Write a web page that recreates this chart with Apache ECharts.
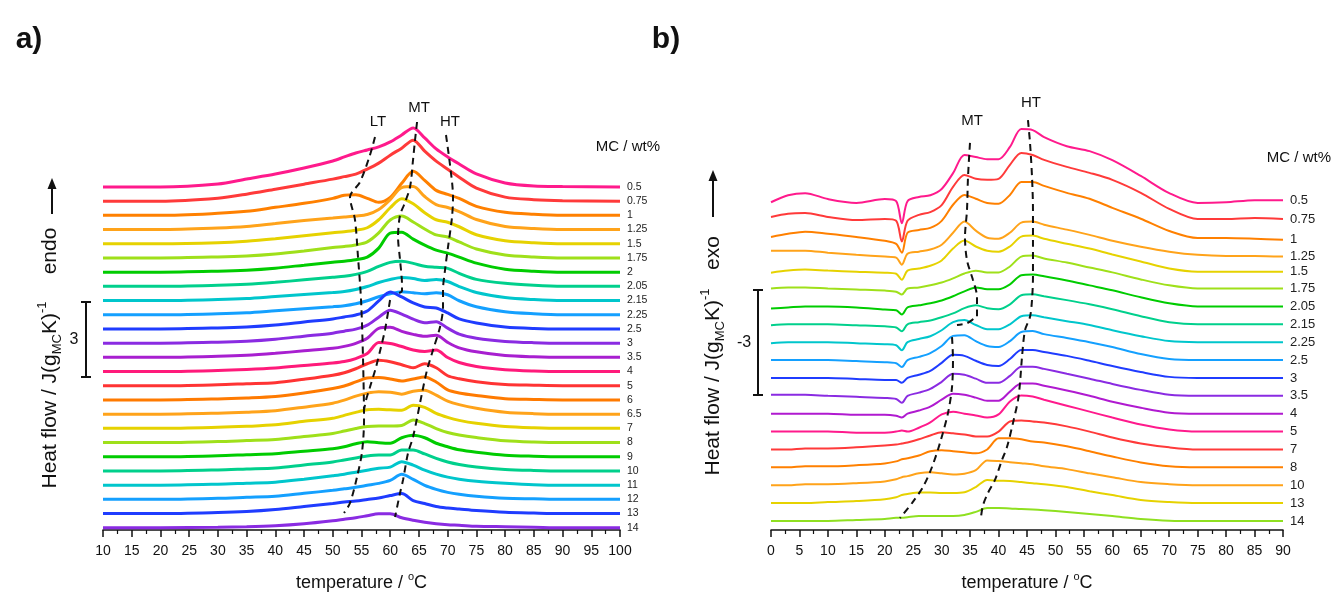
<!DOCTYPE html>
<html><head><meta charset="utf-8">
<script src="https://cdn.jsdelivr.net/npm/echarts@6/dist/echarts.min.js"></script>
<style>html,body{margin:0;padding:0;background:#fff}#c{width:1331px;height:595px}</style>
</head><body><div id="c"></div>
<script>
// ---------- Panel a: heating (endo up), heat flow above each curve's baseline, J/(g K) ----------
const TEMP_A = [10,20,30,35,40,45,50,52,54,56,58,60,62,64,66,68,70,72,75,80,85,90,100];
const MC_A = ['0.5','0.75','1','1.25','1.5','1.75','2','2.05','2.15','2.25','2.5','3','3.5','4','5','6','6.5','7','8','9','10','11','12','13','14'];
const A_0_5  = [0,0,0.12,0.32,0.52,0.76,1.04,1.2,1.36,1.48,1.6,1.8,2.08,2.36,1.96,1.52,1.2,0.92,0.52,0.16,0.04,0.02,0];
const A_0_75 = [0,0,0.12,0.28,0.48,0.68,0.88,0.98,1.08,1.28,1.52,1.84,2.12,2.44,2.0,1.6,1.28,0.96,0.52,0.16,0.06,0.02,0];
const A_1    = [0,0,0.08,0.16,0.32,0.48,0.68,0.8,0.82,0.68,0.52,0.72,1.28,1.76,1.4,1.0,0.84,0.68,0.36,0.12,0.04,0,0];
const A_1_25 = [0,0,0.06,0.12,0.24,0.36,0.46,0.5,0.54,0.6,0.8,1.2,1.68,1.72,1.32,1.0,0.88,0.72,0.4,0.12,0.04,0,0];
const A_1_5  = [0,0,0.04,0.1,0.2,0.32,0.44,0.48,0.54,0.64,0.96,1.44,1.8,1.6,1.24,0.96,0.86,0.68,0.36,0.12,0.04,0,0];
const A_1_75 = [0,0,0.04,0.08,0.16,0.28,0.42,0.46,0.52,0.64,1.0,1.52,1.68,1.44,1.16,0.92,0.84,0.64,0.36,0.12,0.04,0,0];
const A_2    = [0,0,0.04,0.08,0.16,0.28,0.4,0.44,0.5,0.6,0.96,1.56,1.6,1.32,1.08,0.88,0.76,0.6,0.36,0.12,0.04,0,0];
const A_2_05 = [0,0,0.04,0.08,0.16,0.26,0.36,0.4,0.48,0.6,0.8,0.96,1.0,0.92,0.8,0.76,0.72,0.52,0.28,0.12,0.04,0,0];
const A_2_15 = [0,0,0.04,0.08,0.16,0.24,0.32,0.36,0.44,0.56,0.72,0.84,0.92,0.88,0.8,0.84,0.76,0.56,0.32,0.12,0.04,0,0];
const A_2_25 = [0,0,0.04,0.08,0.16,0.24,0.32,0.36,0.44,0.56,0.72,0.84,0.92,0.88,0.84,0.88,0.8,0.56,0.32,0.12,0.04,0,0];
const A_2_5  = [0,0,0.04,0.08,0.16,0.28,0.4,0.48,0.56,0.72,1.12,1.48,1.28,1.04,0.88,0.84,0.64,0.4,0.24,0.08,0.02,0,0];
const A_3    = [0,0,0.04,0.08,0.16,0.28,0.4,0.48,0.56,0.72,1.04,1.32,1.16,0.96,0.82,0.86,0.6,0.36,0.2,0.07,0.02,0,0];
const A_3_5  = [0,0,0.04,0.08,0.16,0.26,0.36,0.44,0.56,0.76,1.16,1.2,1.04,0.92,0.84,0.88,0.6,0.38,0.22,0.07,0.02,0,0];
const A_4    = [0,0,0.04,0.08,0.14,0.24,0.34,0.4,0.52,0.72,1.16,1.12,1.0,0.86,0.8,0.86,0.56,0.36,0.2,0.07,0.02,0,0];
const A_5    = [0,0,0.04,0.08,0.12,0.26,0.42,0.52,0.68,0.88,1.02,0.96,0.84,0.72,0.88,0.72,0.4,0.28,0.16,0.05,0.02,0,0];
const A_6    = [0,0,0.04,0.08,0.14,0.28,0.46,0.56,0.72,0.88,0.9,0.84,0.76,0.84,0.92,0.72,0.4,0.28,0.18,0.05,0.02,0,0];
const A_6_5  = [0,0,0.04,0.08,0.14,0.28,0.44,0.56,0.72,0.84,0.9,0.88,0.8,0.92,0.96,0.76,0.52,0.38,0.24,0.08,0.02,0,0];
const A_7    = [0,0,0.04,0.08,0.14,0.28,0.4,0.52,0.64,0.74,0.76,0.74,0.72,0.92,0.84,0.6,0.44,0.32,0.2,0.07,0.02,0,0];
const A_8    = [0,0,0.04,0.08,0.12,0.24,0.36,0.46,0.56,0.64,0.66,0.66,0.68,0.9,0.76,0.56,0.4,0.3,0.2,0.07,0.02,0,0];
const A_9    = [0,0,0.04,0.08,0.12,0.22,0.32,0.4,0.52,0.6,0.56,0.54,0.76,0.86,0.76,0.54,0.4,0.28,0.18,0.06,0.02,0,0];
const A_10   = [0,0,0.04,0.08,0.12,0.24,0.36,0.44,0.52,0.6,0.64,0.64,0.84,0.84,0.68,0.5,0.36,0.26,0.16,0.06,0.02,0,0];
const A_11   = [0,0,0.04,0.08,0.12,0.24,0.38,0.44,0.52,0.6,0.68,0.72,0.94,0.8,0.6,0.44,0.32,0.24,0.16,0.08,0.02,0,0];
const A_12   = [0,0,0.04,0.08,0.12,0.24,0.36,0.42,0.48,0.56,0.64,0.76,1.0,0.8,0.56,0.4,0.28,0.2,0.12,0.04,0.02,0,0];
const A_13   = [0,0,0.04,0.08,0.16,0.28,0.4,0.46,0.5,0.56,0.62,0.72,0.8,0.52,0.4,0.28,0.22,0.18,0.12,0.05,0.02,0,0];
const A_14   = [0,0,0.02,0.04,0.08,0.16,0.28,0.34,0.4,0.48,0.56,0.56,0.4,0.3,0.22,0.16,0.12,0.1,0.06,0.04,0.02,0,0];
const CURVES_A = [A_0_5,A_0_75,A_1,A_1_25,A_1_5,A_1_75,A_2,A_2_05,A_2_15,A_2_25,A_2_5,A_3,A_3_5,A_4,A_5,A_6,A_6_5,A_7,A_8,A_9,A_10,A_11,A_12,A_13,A_14];
// peak-position guide lines [T, stacked value]
const LT_A = [[57.35,15.72],[56.48,15.0],[54.74,13.92],[53.0,13.32],[53.87,12.4],[54.39,10.92],[54.92,9.2],[55.27,6.8],[55.44,4.4],[55.09,3.12],[54.22,2.12],[53.0,1.08],[51.96,0.68]];
const MT_A1 = [[64.67,16.32],[64.32,15.6],[63.97,14.8],[63.45,13.72],[62.4,13.0],[61.71,12.6],[61.36,11.72],[61.71,10.8],[62.05,9.8],[62.05,9.56],[61.01,9.44]];
const MT_A2 = [[59.97,9.2],[59.09,8.0],[58.4,7.32],[57.53,6.52],[56.48,5.72],[55.79,5.2],[55.44,4.8]];
const HT_A = [[69.71,15.8],[70.41,14.6],[70.93,13.32],[70.76,12.52],[70.06,11.32],[69.54,10.4],[69.19,9.6],[69.19,8.92],[68.67,8.12],[67.45,7.2],[66.41,6.4],[65.54,5.48],[63.97,3.72],[63.1,3.08],[62.23,2.0],[61.71,1.48],[60.84,0.52]];

// ---------- Panel b: cooling (exo up) ----------
const TEMP_B = [0,3,6,10,15,20,22,23,24,26,28,30,32,34,36,38,40,42,44,46,48,52,56,60,65,70,75,80,85,90];
const MC_B = ['0.5','0.75','1','1.25','1.5','1.75','2.05','2.15','2.25','2.5','3','3.5','4','5','7','8','10','13','14'];
const B_0_5  = [-0.09,0.11,0.17,0,-0.11,0,-0.06,-0.69,-0.06,0.06,0.11,0.29,0.74,1.26,1.2,1.14,1.14,1.49,2.0,1.97,1.77,1.51,1.37,1.11,0.66,0.17,-0.11,-0.09,-0.03,-0.03];
const B_0_75 = [0,0.09,0.11,0,-0.09,-0.06,-0.11,-0.7,-0.11,0.06,0.14,0.34,0.86,1.2,1.09,1.06,1.09,1.49,1.83,1.77,1.63,1.43,1.26,1.06,0.69,0.23,-0.06,-0.06,-0.03,-0.06];
const B_1    = [-0.06,0.03,0.09,0.03,-0.06,-0.17,-0.26,-0.51,0.06,0.14,0.2,0.4,0.86,1.14,1.03,0.91,0.89,1.14,1.51,1.51,1.4,1.2,1.03,0.77,0.46,0.11,-0.09,-0.09,-0.11,-0.14];
const B_1_25 = [0.06,0.06,0.06,0,-0.06,-0.11,-0.14,-0.34,-0.03,0.03,0.09,0.23,0.57,0.89,0.63,0.43,0.4,0.57,0.86,0.89,0.8,0.66,0.51,0.34,0.17,0.03,-0.06,-0.09,-0.09,-0.11];
const B_1_5  = [-0.06,0,0.03,0,-0.03,-0.06,-0.09,-0.26,0,0.06,0.14,0.29,0.63,0.86,0.69,0.57,0.54,0.69,0.97,1.0,0.91,0.77,0.63,0.46,0.26,0.06,-0.03,-0.03,-0.03,-0.03];
const B_1_75 = [0,0.03,0.03,0,-0.03,-0.06,-0.09,-0.17,0,0.03,0.09,0.17,0.29,0.43,0.51,0.46,0.46,0.63,0.91,0.94,0.86,0.74,0.6,0.46,0.26,0.09,0,0,0,0];
const B_2_05 = [-0.06,-0.03,0,0,-0.03,-0.09,-0.11,-0.23,-0.03,0.03,0.09,0.17,0.29,0.43,0.54,0.49,0.49,0.63,0.89,0.91,0.86,0.74,0.6,0.46,0.26,0.09,0,0,0,0];
const B_2_15 = [-0.03,0,0,0,-0.03,-0.06,-0.09,-0.2,0,0.06,0.11,0.2,0.31,0.46,0.54,0.46,0.43,0.57,0.83,0.86,0.8,0.69,0.57,0.43,0.23,0.06,0,0,0,0];
const B_2_25 = [-0.03,0,0,0,-0.03,-0.06,-0.09,-0.23,0,0.09,0.17,0.34,0.57,0.63,0.49,0.37,0.37,0.51,0.74,0.77,0.71,0.6,0.49,0.34,0.17,0.03,0,0,0,0];
const B_2_5  = [0,0,0,0,-0.03,-0.06,-0.09,-0.2,0,0.09,0.2,0.4,0.69,0.71,0.54,0.4,0.37,0.54,0.8,0.83,0.74,0.63,0.51,0.37,0.17,0.03,0,0,0,0];
const B_3    = [0,0,0,0,-0.03,-0.06,-0.06,-0.14,0,0.09,0.2,0.43,0.66,0.63,0.49,0.37,0.34,0.54,0.8,0.8,0.74,0.63,0.49,0.34,0.17,0.03,0,0,0,0];
const B_3_5  = [0.03,0.03,0.03,0,-0.03,-0.06,-0.09,-0.2,0,0.09,0.2,0.4,0.63,0.6,0.49,0.37,0.37,0.57,0.83,0.83,0.77,0.63,0.49,0.34,0.17,0.03,0,0,0,0];
const B_4    = [0,0,0,0,-0.03,-0.03,-0.06,-0.11,0,0.09,0.2,0.4,0.57,0.54,0.46,0.37,0.37,0.63,0.86,0.86,0.8,0.66,0.51,0.34,0.17,0.03,0,0,0,0];
const B_5    = [0,0,0,0,-0.03,-0.03,0,0.03,0,0.11,0.26,0.49,0.57,0.51,0.46,0.4,0.49,0.86,1.03,1.0,0.91,0.74,0.57,0.4,0.2,0.06,0,0,0,0];
const B_7    = [0,0,0.03,0.03,0.06,0.11,0.14,0.17,0.2,0.29,0.4,0.49,0.46,0.43,0.37,0.37,0.51,0.8,0.83,0.8,0.77,0.66,0.51,0.34,0.17,0.06,0,0,0,0];
const B_8    = [0,0,0.03,0.03,0.06,0.11,0.17,0.23,0.26,0.34,0.46,0.49,0.46,0.43,0.4,0.51,0.83,0.83,0.8,0.74,0.71,0.6,0.46,0.31,0.14,0.03,0,0,0,0];
const B_10   = [0,0,0.03,0.03,0.06,0.11,0.17,0.23,0.26,0.34,0.37,0.34,0.31,0.33,0.43,0.71,0.69,0.66,0.63,0.6,0.54,0.46,0.34,0.23,0.09,0.03,0,0,0,0];
const B_13   = [0,0,0,0.03,0.06,0.11,0.17,0.23,0.26,0.3,0.3,0.29,0.29,0.31,0.46,0.66,0.64,0.63,0.6,0.57,0.54,0.46,0.34,0.23,0.09,0.03,0,0,0,0];
const B_14   = [0,0,0,0,0.03,0.06,0.09,0.09,0.11,0.14,0.14,0.14,0.14,0.17,0.26,0.37,0.37,0.36,0.34,0.33,0.31,0.26,0.2,0.14,0.06,0.01,0,0,0,0];
const CURVES_B = [B_0_5,B_0_75,B_1,B_1_25,B_1_5,B_1_75,B_2_05,B_2_15,B_2_25,B_2_5,B_3,B_3_5,B_4,B_5,B_7,B_8,B_10,B_13,B_14];
const MT_B1 = [[34.98,11.06],[34.63,10.09],[34.45,9.14],[34.1,8.37],[34.45,7.71],[35.51,7.14],[36.21,6.66],[36.21,6.09],[35.86,6.06],[34.45,5.91],[32.69,5.86]];
const MT_B2 = [[31.82,5.51],[31.99,4.86],[31.82,4.09],[31.11,3.34],[29.71,2.49],[28.3,1.8],[26.72,1.23],[24.78,0.77],[22.68,0.34]];
const HT_B = [[45.17,11.71],[45.53,11.06],[45.88,10.09],[46.05,9.14],[46.05,8.2],[46.05,7.23],[45.88,6.57],[45.53,6.09],[44.65,5.71],[44.12,4.94],[43.77,4.2],[43.42,3.71],[42.54,3.06],[41.48,2.37],[40.6,2.0],[39.37,1.43],[38.14,1.06],[37.27,0.71],[36.91,0.37]];

// stacking offsets of the curves (J/(g K))
const BASE_A = 0.09, STEP_A = 0.568;
const BASE_B = 0.257, STEP_B = 0.511;
const SCALE_A = 3, SCALE_B = 3;

const COLORS_A = ['#ff1a8c','#ff3a3a','#ff8000','#ffa31a','#e6d200','#9fe01a','#00cc00','#00d08c','#00c6cc','#14a0ff','#1f3cff','#8a2be2','#a81fd0','#ff1a7a','#ff3333','#ff7a00','#ffa31a','#e6d200','#9fe01a','#00cc00','#00d08c','#00c6cc','#14a0ff','#1f3cff','#8a2be2'];
const COLORS_B = ['#ff1a8c','#ff3a3a','#ff8000','#ffa31a','#e6d200','#9fe01a','#00cc00','#00d08c','#00c6cc','#14a0ff','#1f3cff','#8a2be2','#b01ad0','#ff1a8c','#ff3a3a','#ff8000','#ffa31a','#e6d200','#8fe020'];

const FONT = '"Liberation Sans", Arial, sans-serif';

function curveSeries(temps, curves, labels, colors, base, step, idx, width, fs) {
  const n = curves.length;
  return curves.map((vals, i) => ({
    type: 'line', name: labels[i], xAxisIndex: idx, yAxisIndex: idx,
    data: temps.map((t, j) => [t, base + step * (n - 1 - i) + vals[j]]),
    symbol: 'none', smooth: 0.3, silent: true, z: 2,
    lineStyle: { color: colors[i], width: width },
    itemStyle: { color: colors[i] },
    endLabel: { show: true, formatter: () => labels[i], fontSize: fs, color: '#222', distance: 7, fontFamily: FONT }
  }));
}
function guide(pts, idx) {
  return { type: 'line', xAxisIndex: idx, yAxisIndex: idx, data: pts, symbol: 'none', smooth: 0.3, silent: true, z: 20,
    lineStyle: { color: '#111', width: 2, type: [7, 5] } };
}
function xAxis(idx, min, max) {
  return { type: 'value', gridIndex: idx, min: min, max: max, interval: 5,
    name: '{m|temperature / }{s|o}{m|C}', nameLocation: 'middle', nameGap: 41,
    nameTextStyle: { rich: { m: { fontSize: 18, lineHeight: 24, color: '#111', fontFamily: FONT }, s: { fontSize: 11, lineHeight: 12, verticalAlign: 'top', color: '#111', fontFamily: FONT } } },
    axisLine: { onZero: false, lineStyle: { color: '#111', width: 1.5 } },
    axisTick: { inside: false, length: 7, lineStyle: { color: '#111', width: 1.5 } },
    minorTick: { show: true, splitNumber: 2, length: 4, lineStyle: { color: '#111', width: 1.2 } },
    axisLabel: { fontSize: 14, color: '#111', margin: 14, fontFamily: FONT },
    splitLine: { show: false } };
}

const chart = echarts.init(document.getElementById('c'));
const series = []
  .concat(curveSeries(TEMP_A, CURVES_A, MC_A, COLORS_A, BASE_A, STEP_A, 0, 3, 10.5))
  .concat(curveSeries(TEMP_B, CURVES_B, MC_B, COLORS_B, BASE_B, STEP_B, 1, 2, 13))
  .concat([guide(LT_A, 0), guide(MT_A1, 0), guide(MT_A2, 0), guide(HT_A, 0), guide(MT_B1, 1), guide(MT_B2, 1), guide(HT_B, 1)]);

chart.setOption({
  animation: false,
  backgroundColor: '#fff',
  grid: [
    { left: 103, right: 711, top: 105, bottom: 65, containLabel: false, outerBoundsMode: 'none' },
    { left: 771, right: 48, top: 96, bottom: 65, containLabel: false, outerBoundsMode: 'none' }
  ],
  xAxis: [xAxis(0, 10, 100), xAxis(1, 0, 90)],
  yAxis: [
    { type: 'value', gridIndex: 0, min: 0, max: 17, show: false },
    { type: 'value', gridIndex: 1, min: 0, max: 12.4, show: false }
  ],
  series: series
});

// scale bars and text annotations
const y0a = chart.convertToPixel({ yAxisIndex: 0 }, 0), y3a = chart.convertToPixel({ yAxisIndex: 0 }, SCALE_A);
const y0b = chart.convertToPixel({ yAxisIndex: 1 }, 0), y3b = chart.convertToPixel({ yAxisIndex: 1 }, SCALE_B);
const lenA = Math.abs(y0a - y3a), lenB = Math.abs(y0b - y3b);
function bar(x, top, len, label, lx) {
  const ls = { stroke: '#111', lineWidth: 2 };
  return [
    { type: 'line', shape: { x1: x, y1: top, x2: x, y2: top + len }, style: ls },
    { type: 'line', shape: { x1: x - 5, y1: top, x2: x + 5, y2: top }, style: ls },
    { type: 'line', shape: { x1: x - 5, y1: top + len, x2: x + 5, y2: top + len }, style: ls },
    { type: 'text', x: lx, y: top + len / 2, style: { text: label, font: '16px ' + FONT, fill: '#111', align: 'center', verticalAlign: 'middle' } }
  ];
}
function vtext(x, y, text, size) {
  return { type: 'text', x: x, y: y, rotation: Math.PI / 2,
    style: { text: text, fill: '#111', align: 'center', verticalAlign: 'middle', font: size + 'px ' + FONT,
      rich: { m: { fontSize: size, lineHeight: 28, fontFamily: FONT, fill: '#111' },
              sb: { fontSize: 13, lineHeight: 14, verticalAlign: 'bottom', fontFamily: FONT, fill: '#111' },
              sp: { fontSize: 13, lineHeight: 14, verticalAlign: 'top', fontFamily: FONT, fill: '#111' } } } };
}
function arrow(x, tip, tail) {
  return [
    { type: 'line', shape: { x1: x, y1: tail, x2: x, y2: tip + 8 }, style: { stroke: '#111', lineWidth: 2 } },
    { type: 'polygon', shape: { points: [[x, tip], [x - 4.5, tip + 11], [x + 4.5, tip + 11]] }, style: { fill: '#111' } }
  ];
}
function t(x, y, text, size, bold, align) {
  return { type: 'text', x: x, y: y, style: { text: text, font: (bold ? 'bold ' : '') + size + 'px ' + FONT, fill: '#111', align: align || 'center', verticalAlign: 'middle' } };
}
const YNAME = '{m|Heat flow / J(g}{sb|MC}{m|K)}{sp|-1}';
chart.setOption({
  graphic: [].concat(
    bar(86, 302, lenA, '3', 74),
    bar(758, 290, lenB, '-3', 744),
    [vtext(50, 395, YNAME, 21), vtext(50, 251, '{m|endo}', 21)],
    arrow(52, 178, 214),
    [vtext(713, 382, YNAME, 21), vtext(713, 253, '{m|exo}', 21)],
    arrow(713, 170, 217),
    [t(29, 40, 'a)', 30, true), t(666, 40, 'b)', 30, true),
     t(378, 122, 'LT', 15), t(419, 108, 'MT', 15), t(450, 122, 'HT', 15),
     t(972, 121, 'MT', 15), t(1031, 103, 'HT', 15),
     t(660, 147, 'MC / wt%', 15, false, 'right'), t(1331, 158, 'MC / wt%', 15, false, 'right')]
  )
});
</script>
</body></html>
